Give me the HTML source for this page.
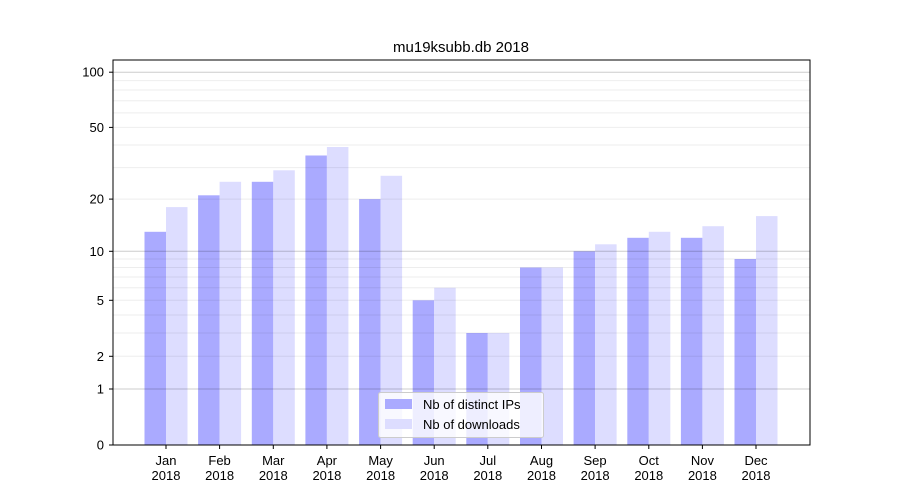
<!DOCTYPE html>
<html><head><meta charset="utf-8"><style>body{margin:0;background:#fff}svg{display:block;font-family:"Liberation Sans","DejaVu Sans",sans-serif}</style></head><body>
<svg width="900" height="500" xmlns="http://www.w3.org/2000/svg">
<rect width="900" height="500" fill="#fff"/>
<g>
<rect x="144.5" y="231.8" width="21.5" height="213.2" fill="#aaaaff"/><rect x="166" y="207.1" width="21.5" height="237.9" fill="#ddddff"/>
<rect x="198.1" y="195.3" width="21.5" height="249.7" fill="#aaaaff"/><rect x="219.6" y="181.8" width="21.5" height="263.2" fill="#ddddff"/>
<rect x="251.8" y="181.8" width="21.5" height="263.2" fill="#aaaaff"/><rect x="273.3" y="170.3" width="21.5" height="274.7" fill="#ddddff"/>
<rect x="305.4" y="155.5" width="21.5" height="289.5" fill="#aaaaff"/><rect x="326.9" y="147.0" width="21.5" height="298" fill="#ddddff"/>
<rect x="359.1" y="199.1" width="21.5" height="245.9" fill="#aaaaff"/><rect x="380.6" y="175.8" width="21.5" height="269.2" fill="#ddddff"/>
<rect x="412.7" y="300.3" width="21.5" height="144.7" fill="#aaaaff"/><rect x="434.2" y="287.8" width="21.5" height="157.2" fill="#ddddff"/>
<rect x="466.3" y="333" width="21.5" height="112" fill="#aaaaff"/><rect x="487.8" y="333" width="21.5" height="112" fill="#ddddff"/>
<rect x="520" y="267.5" width="21.5" height="177.5" fill="#aaaaff"/><rect x="541.5" y="267.5" width="21.5" height="177.5" fill="#ddddff"/>
<rect x="573.6" y="251.3" width="21.5" height="193.7" fill="#aaaaff"/><rect x="595.1" y="244.3" width="21.5" height="200.7" fill="#ddddff"/>
<rect x="627.3" y="237.8" width="21.5" height="207.2" fill="#aaaaff"/><rect x="648.8" y="231.8" width="21.5" height="213.2" fill="#ddddff"/>
<rect x="680.9" y="237.8" width="21.5" height="207.2" fill="#aaaaff"/><rect x="702.4" y="226.2" width="21.5" height="218.8" fill="#ddddff"/>
<rect x="734.5" y="259" width="21.5" height="186" fill="#aaaaff"/><rect x="756" y="216.1" width="21.5" height="228.9" fill="#ddddff"/>
</g>
<g stroke="#000" stroke-opacity="0.07">
<line x1="113" x2="810" y1="356.3" y2="356.3"/><line x1="113" x2="810" y1="333" y2="333"/><line x1="113" x2="810" y1="315" y2="315"/><line x1="113" x2="810" y1="300.3" y2="300.3"/><line x1="113" x2="810" y1="287.8" y2="287.8"/><line x1="113" x2="810" y1="277" y2="277"/><line x1="113" x2="810" y1="267.5" y2="267.5"/><line x1="113" x2="810" y1="259" y2="259"/>
<line x1="113" x2="810" y1="199.1" y2="199.1"/><line x1="113" x2="810" y1="167.6" y2="167.6"/><line x1="113" x2="810" y1="145" y2="145"/><line x1="113" x2="810" y1="127.4" y2="127.4"/><line x1="113" x2="810" y1="112.9" y2="112.9"/><line x1="113" x2="810" y1="100.7" y2="100.7"/><line x1="113" x2="810" y1="90" y2="90"/><line x1="113" x2="810" y1="80.6" y2="80.6"/>
</g>
<g stroke="#000" stroke-opacity="0.2">
<line x1="113" x2="810" y1="389" y2="389"/><line x1="113" x2="810" y1="251.3" y2="251.3"/><line x1="113" x2="810" y1="72.2" y2="72.2"/>
</g>
<rect x="113" y="60" width="697" height="385" fill="none" stroke="#000" stroke-width="1"/>
<g stroke="#000">
<line x1="109" x2="113" y1="445" y2="445"/><line x1="109" x2="113" y1="389" y2="389"/><line x1="109" x2="113" y1="356.3" y2="356.3"/><line x1="109" x2="113" y1="300.3" y2="300.3"/><line x1="109" x2="113" y1="251.3" y2="251.3"/><line x1="109" x2="113" y1="199.1" y2="199.1"/><line x1="109" x2="113" y1="127.4" y2="127.4"/><line x1="109" x2="113" y1="72.2" y2="72.2"/>
<line x1="166" x2="166" y1="445" y2="449"/><line x1="219.6" x2="219.6" y1="445" y2="449"/><line x1="273.3" x2="273.3" y1="445" y2="449"/><line x1="326.9" x2="326.9" y1="445" y2="449"/><line x1="380.6" x2="380.6" y1="445" y2="449"/><line x1="434.2" x2="434.2" y1="445" y2="449"/><line x1="487.8" x2="487.8" y1="445" y2="449"/><line x1="541.5" x2="541.5" y1="445" y2="449"/><line x1="595.1" x2="595.1" y1="445" y2="449"/><line x1="648.8" x2="648.8" y1="445" y2="449"/><line x1="702.4" x2="702.4" y1="445" y2="449"/><line x1="756" x2="756" y1="445" y2="449"/>
</g>
<g font-size="13" text-anchor="end">
<text x="104" y="449.5">0</text><text x="104" y="393.5">1</text><text x="104" y="360.8">2</text><text x="104" y="304.8">5</text><text x="104" y="255.8">10</text><text x="104" y="203.6">20</text><text x="104" y="131.9">50</text><text x="104" y="76.7">100</text>
</g>
<g font-size="13" text-anchor="middle">
<text x="166" y="465">Jan</text><text x="166" y="480">2018</text>
<text x="219.6" y="465">Feb</text><text x="219.6" y="480">2018</text>
<text x="273.3" y="465">Mar</text><text x="273.3" y="480">2018</text>
<text x="326.9" y="465">Apr</text><text x="326.9" y="480">2018</text>
<text x="380.6" y="465">May</text><text x="380.6" y="480">2018</text>
<text x="434.2" y="465">Jun</text><text x="434.2" y="480">2018</text>
<text x="487.8" y="465">Jul</text><text x="487.8" y="480">2018</text>
<text x="541.5" y="465">Aug</text><text x="541.5" y="480">2018</text>
<text x="595.1" y="465">Sep</text><text x="595.1" y="480">2018</text>
<text x="648.8" y="465">Oct</text><text x="648.8" y="480">2018</text>
<text x="702.4" y="465">Nov</text><text x="702.4" y="480">2018</text>
<text x="756" y="465">Dec</text><text x="756" y="480">2018</text>
</g>
<text x="461" y="52" font-size="15" text-anchor="middle">mu19ksubb.db 2018</text>
<g>
<rect x="378.5" y="392.5" width="165" height="45" rx="2" fill="#fff" fill-opacity="0.8" stroke="#ccc"/>
<rect x="385" y="399" width="27" height="10" fill="#aaaaff"/>
<text x="423" y="409" font-size="13">Nb of distinct IPs</text>
<rect x="385" y="419" width="27" height="10" fill="#ddddff"/>
<text x="423" y="429" font-size="13">Nb of downloads</text>
</g>
</svg>
</body></html>
